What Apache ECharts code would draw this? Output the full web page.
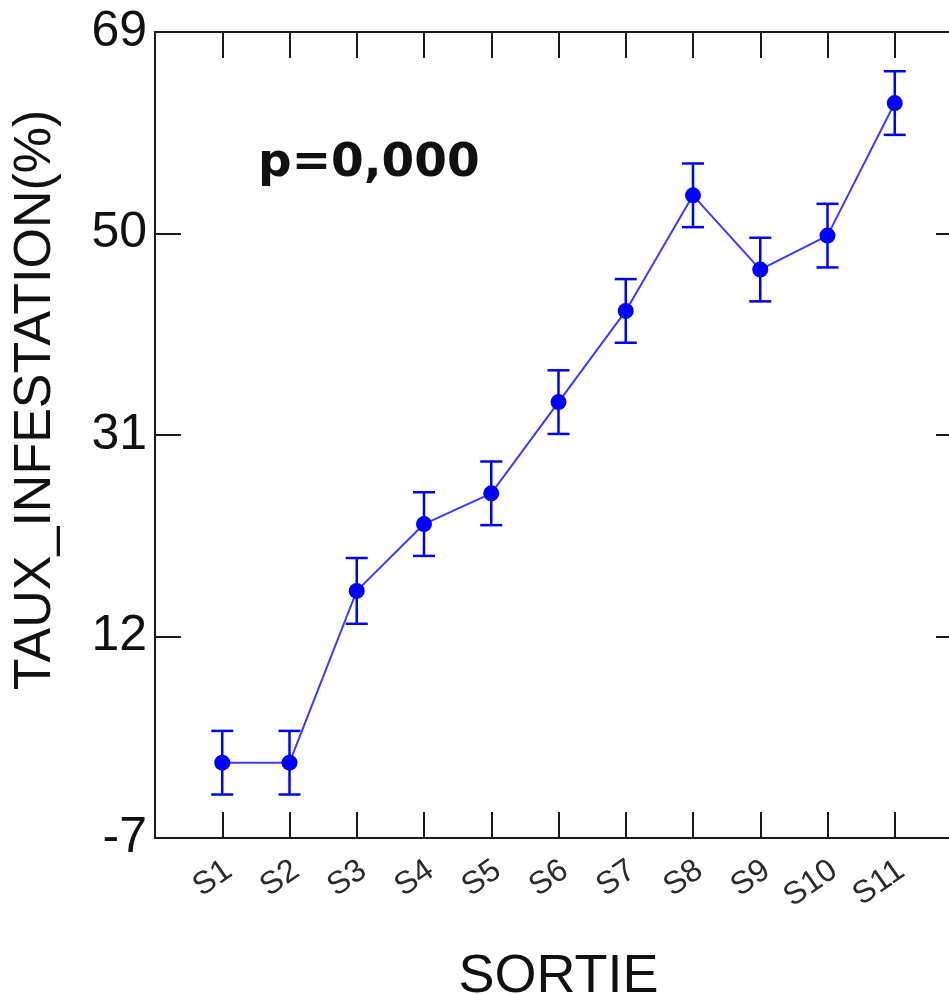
<!DOCTYPE html>
<html>
<head>
<meta charset="utf-8">
<script src="https://cdn.jsdelivr.net/npm/echarts@6/dist/echarts.min.js"></script>
<style>
html,body{margin:0;padding:0;background:#fff;}
#chart{width:949px;height:994px;}
</style>
</head>
<body>
<div id="chart"></div>
<script>
// ---- data ----
const categories = ['S1','S2','S3','S4','S5','S6','S7','S8','S9','S10','S11'];
const means = [0.1, 0.1, 16.3, 22.6, 25.5, 34.1, 42.7, 53.6, 46.6, 49.8, 62.3];
const errors = [3.0, 3.0, 3.1, 3.0, 3.0, 3.0, 3.0, 3.0, 3.0, 3.0, 3.0];
const yTicks = [-7, 12, 31, 50, 69];
const xTicks = [1,2,3,4,5,6,7,8,9,10,11];
const pText = 'p=0,000';
const yTitle = 'TAUX_INFESTATION(%)';
const xTitle = 'SORTIE';

const font = "'Liberation Sans', Arial, sans-serif";
const axisColor = '#1a1a1a';
const blue = '#0000ff';

const lineData = means.map((v, i) => [i + 1, v]);
const errData = means.map((v, i) => [i + 1, v - errors[i], v + errors[i]]);

const chart = echarts.init(document.getElementById('chart'), null, {renderer: 'canvas'});

const tickCommon = {show: true, inside: true, length: 26, lineStyle: {color: axisColor, width: 2}};
const lineCommon = {show: true, onZero: false, lineStyle: {color: axisColor, width: 2}};

chart.setOption({
  animation: false,
  backgroundColor: '#fff',
  grid: {left: 155, top: 32, width: 807, height: 806, containLabel: false, outerBoundsMode: 'none'},
  xAxis: [
    {
      type: 'value', min: 0, max: 12, position: 'bottom',
      axisLine: lineCommon,
      axisTick: Object.assign({}, tickCommon, {customValues: xTicks}),
      splitLine: {show: false},
      axisLabel: {
        show: true, customValues: xTicks, rotate: 35, margin: 34,
        padding: [0, -8, 0, 0],
        fontFamily: font, fontSize: 32, color: '#2a2a2a',
        formatter: v => categories[Math.round(v) - 1] || ''
      },
      name: xTitle, nameLocation: 'middle', nameGap: 112,
      nameTextStyle: {fontFamily: font, fontSize: 54, color: '#111'}
    },
    {
      type: 'value', min: 0, max: 12, position: 'top',
      axisLine: lineCommon,
      axisTick: Object.assign({}, tickCommon, {customValues: xTicks}),
      splitLine: {show: false},
      axisLabel: {show: false}
    }
  ],
  yAxis: [
    {
      type: 'value', min: -7, max: 69, position: 'left',
      axisLine: lineCommon,
      axisTick: Object.assign({}, tickCommon, {customValues: yTicks}),
      splitLine: {show: false},
      axisLabel: {
        show: true, customValues: yTicks, margin: 8,
        fontFamily: font, fontSize: 50, color: '#111'
      }
    },
    {
      type: 'value', min: -7, max: 69, position: 'right',
      axisLine: lineCommon,
      axisTick: Object.assign({}, tickCommon, {customValues: yTicks}),
      splitLine: {show: false},
      axisLabel: {show: false}
    }
  ],
  graphic: [
    {
      type: 'text', left: 258, top: 140,
      style: {text: pText, font: "bold 47px 'DejaVu Sans', Verdana, sans-serif", fill: '#111'}
    },
    {
      type: 'text', x: 36, y: 400, rotation: Math.PI / 2,
      style: {text: yTitle, fontFamily: font, fontSize: 52, fill: '#111', align: 'center', verticalAlign: 'middle'}
    }
  ],
  series: [
    {
      type: 'custom',
      xAxisIndex: 0, yAxisIndex: 0,
      data: errData,
      encode: {x: 0, y: [1, 2]},
      z: 3,
      renderItem: function (params, api) {
        const x = api.value(0);
        const lo = api.coord([x, api.value(1)]);
        const hi = api.coord([x, api.value(2)]);
        const hw = 11;
        const st = {stroke: blue, lineWidth: 2.5};
        return {
          type: 'group',
          children: [
            {type: 'line', shape: {x1: lo[0], y1: lo[1], x2: hi[0], y2: hi[1]}, style: st},
            {type: 'line', shape: {x1: lo[0] - hw, y1: lo[1], x2: lo[0] + hw, y2: lo[1]}, style: st},
            {type: 'line', shape: {x1: hi[0] - hw, y1: hi[1], x2: hi[0] + hw, y2: hi[1]}, style: st}
          ]
        };
      }
    },
    {
      type: 'line',
      xAxisIndex: 0, yAxisIndex: 0,
      data: lineData,
      symbol: 'circle', symbolSize: 16,
      lineStyle: {color: '#3b3bff', width: 2},
      itemStyle: {color: blue},
      z: 4
    }
  ]
});
</script>
</body>
</html>
